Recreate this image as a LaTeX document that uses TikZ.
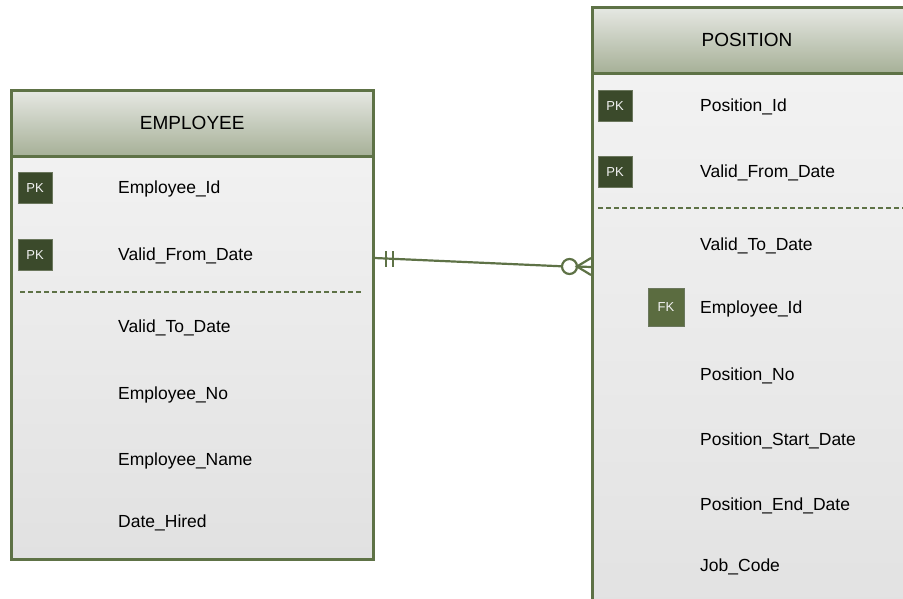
\documentclass[tikz,border=0pt]{standalone}
\usepackage{fontspec}
\setmainfont{Liberation Sans}
\usetikzlibrary{positioning}

\definecolor{erline}{HTML}{5E7246}
\definecolor{headtop}{HTML}{E6E8E3}
\definecolor{headbot}{HTML}{A6B097}
\definecolor{bodytop}{HTML}{F4F4F4}
\definecolor{bodybot}{HTML}{E1E1E1}
\definecolor{pkfill}{HTML}{3B4A2B}
\definecolor{fkfill}{HTML}{5B6C40}

\tikzset{
  entity/.style={draw=erline, line width=2.5pt, top color=bodytop, bottom color=bodybot,
    anchor=north west, inner sep=0pt},
  header/.style={draw=erline, line width=2.5pt, top color=headtop, bottom color=headbot,
    anchor=north west, inner sep=0pt, font=\fontsize{19}{22}\selectfont},
  attr/.style={anchor=west, inner sep=0pt, text height=13pt, text depth=4pt,
    font=\fontsize{17.5}{20}\selectfont},
  pkbox/.style={draw=erline!60!gray, line width=0.8pt, fill=pkfill, text=white!90!gray,
    minimum width=34pt, minimum height=31pt, inner sep=0pt, font=\fontsize{13}{15}\selectfont},
  fkbox/.style={pkbox, fill=fkfill, minimum width=36pt, minimum height=38pt},
  keyline/.style={erline, line width=2.4pt, dash pattern=on 5pt off 3pt},
  rel/.style={erline, line width=2.2pt}
}

\begin{document}
\begin{tikzpicture}[x=1pt, y=-1pt]
  \useasboundingbox (0,0) rectangle (903,598);
  \clip (0,0) rectangle (903,598);

  % EMPLOYEE
  \node[entity, minimum width=362pt, minimum height=469pt] (emp) at (10,89) {};
  \node[header, minimum width=362pt, minimum height=66pt] (emphead) at (emp.north west) {EMPLOYEE};
  \node[pkbox] (emppk1) at (35,188) {PK};
  \node[pkbox] (emppk2) at (35,255) {PK};
  \foreach \name/\y/\txt in {empid/189/Employee\_Id, empvfd/256/Valid\_From\_Date,
      empvtd/328/Valid\_To\_Date, empno/395/Employee\_No, empname/461/Employee\_Name,
      emphired/523/Date\_Hired}
    \node[attr] (\name) at (118,\y) {\txt};
  \draw[keyline] (20,292) -- (362,292);

  % POSITION
  \node[entity, minimum width=330pt, minimum height=640pt] (pos) at (591,6) {};
  \node[header, minimum width=330pt, minimum height=66pt] (poshead) at (pos.north west) {};
  \node[font=\fontsize{19}{22}\selectfont] (postitle) at (747,40) {POSITION};
  \node[pkbox] (pospk1) at (615,106) {PK};
  \node[pkbox] (pospk2) at (615,172) {PK};
  \node[fkbox] (posfk) at (666,307) {FK};
  \foreach \name/\y/\txt in {posid/107/Position\_Id, posvfd/173/Valid\_From\_Date,
      posvtd/246/Valid\_To\_Date, posemp/309/Employee\_Id, posno/376/Position\_No,
      posstart/441/Position\_Start\_Date, posend/506/Position\_End\_Date, posjob/567/Job\_Code}
    \node[attr] (\name) at (700,\y) {\txt};
  \draw[keyline] (598,208) -- (910,208);

  % relationship: one and only one -- zero or many
  \coordinate (relfrom) at (emp.east |- 0,258);
  \coordinate (relto) at (pos.west |- 0,267);
  \coordinate (relcirc) at (569.5,266.5);
  \draw[rel] (relfrom) -- (562,266.3);
  \draw[rel] (386,251) -- (386,267);
  \draw[rel] (393,251) -- (393,267);
  \draw[rel] (relcirc) circle (7.5pt);
  \draw[rel] (relto |- 0,258) -- (577,266.5) -- (relto |- 0,275);
  \draw[rel] (577,266.5) -- (relto);
\end{tikzpicture}
\end{document}
